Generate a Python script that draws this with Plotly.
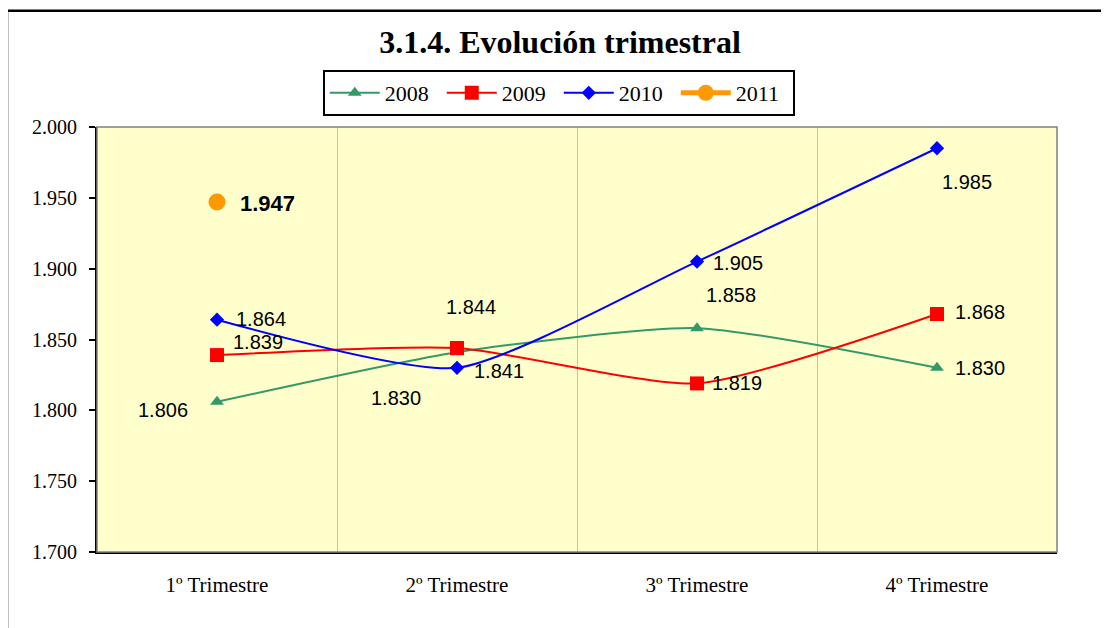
import plotly.graph_objects as go

# ---- data ----
categories = ["1º Trimestre", "2º Trimestre", "3º Trimestre", "4º Trimestre"]
years = ["2008", "2009", "2010", "2011"]
v2008 = [1806, 1841, 1858, 1830]
v2009 = [1839, 1844, 1819, 1868]
v2010 = [1864, 1830, 1905, 1985]
v2011 = [1947]
y_ticks = [1700, 1750, 1800, 1850, 1900, 1950, 2000]

series = {"2008": v2008, "2009": v2009, "2010": v2010, "2011": v2011}

# ---- styles ----
colors = {"2008": "#339966", "2009": "#FF0000", "2010": "#0000FF", "2011": "#FF9900"}
symbols = {"2008": "triangle-up", "2009": "square", "2010": "diamond", "2011": "circle"}
msizes = {"2008": 12, "2009": 14, "2010": 11, "2011": 17}
lwidths = {"2008": 2, "2009": 2, "2010": 2, "2011": 5}
# label offsets (pixels) per series, per point
label_offsets = {
    "2008": [(-54, -8), (42, -19), (34, 33), (43, 0)],
    "2009": [(41, 13), (14, 41), (40, 0), (43, 2)],
    "2010": [(44, 1), (-61, -30), (41, -1), (30, -34)],
    "2011": [(50, -1)],
}

def fmt(v):
    return f"{v:,}".replace(",", ".")

fig = go.Figure()
for yr in years:
    vals = series[yr]
    fig.add_trace(go.Scatter(
        x=categories[:len(vals)], y=vals, name=yr,
        mode="lines+markers",
        line=dict(color=colors[yr], width=lwidths[yr], shape="spline", smoothing=0.6),
        marker=dict(symbol=symbols[yr], size=msizes[yr], color=colors[yr]),
        hoverinfo="skip",
    ))

annotations = []
for yr in years:
    vals = series[yr]
    for i, v in enumerate(vals):
        dx, dy = label_offsets[yr][i]
        bold = yr == "2011"
        annotations.append(dict(
            x=categories[i], y=v, xref="x", yref="y",
            text=("<b>%s</b>" % fmt(v)) if bold else fmt(v),
            showarrow=False, xshift=dx, yshift=dy,
            font=dict(family="Liberation Sans, Arial", size=22 if bold else 20, color="black"),
        ))

shapes = [
    # grey border of plot area
    dict(type="rect", xref="x domain", yref="y domain", x0=0, x1=1, y0=0, y1=1,
         line=dict(color="#808080", width=1.5), layer="above"),
    # outer chart frame
    dict(type="rect", xref="paper", yref="paper", x0=-0.09375, x1=1.1, y0=-0.3, y1=1.2736,
         line=dict(color="black", width=2.5), layer="above"),
]

fig.update_layout(
    width=1109, height=628,
    margin=dict(l=89, r=60, t=119, b=84),
    paper_bgcolor="white",
    plot_bgcolor="#FFFFCC",
    separators=",.",
    title=dict(text="<b>3.1.4. Evolución trimestral</b>", x=552 / 1109, xref="container",
               y=1 - 34 / 628, yref="container", xanchor="center", yanchor="middle",
               font=dict(family="Liberation Serif, Times New Roman", size=32, color="black")),
    legend=dict(orientation="h", x=0.481, xanchor="center", y=1.134, yanchor="top",
                bordercolor="black", borderwidth=2, bgcolor="white",
                font=dict(family="Liberation Serif, Times New Roman", size=22, color="black"),
                entrywidth=52, itemwidth=50, traceorder="normal"),
    showlegend=True,
    annotations=annotations,
    shapes=shapes,
)

fig.update_xaxes(
    type="category", categoryorder="array", categoryarray=categories,
    range=[-0.5, 3.5],
    tickson="boundaries", showgrid=True, gridcolor="#C0C0C0", gridwidth=1,
    ticks="", ticklabelstandoff=13,
    showline=True, linecolor="black", linewidth=2,
    tickfont=dict(family="Liberation Serif, Times New Roman", size=21, color="black"),
    zeroline=False, fixedrange=True,
)
fig.update_yaxes(
    range=[1700, 2000], tickvals=y_ticks, tickformat=",d",
    showgrid=False, zeroline=False,
    ticks="outside", ticklen=6, tickcolor="black", tickwidth=2,
    ticklabelstandoff=8,
    showline=True, linecolor="black", linewidth=2,
    tickfont=dict(family="Liberation Serif, Times New Roman", size=20, color="black"),
    fixedrange=True,
)

fig.write_html("out.html")
